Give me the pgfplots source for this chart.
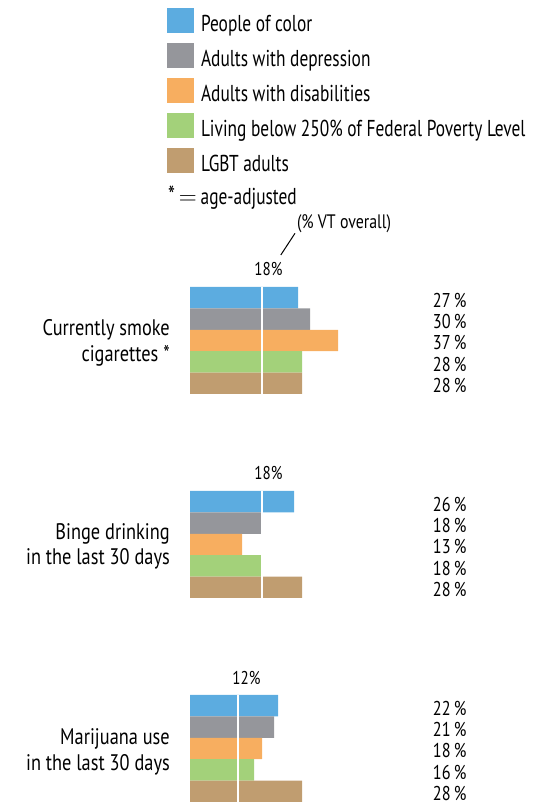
\documentclass[border=0pt]{standalone}
\usepackage{fontspec}
\setmainfont{PT Sans}[FakeStretch=0.815]
\newfontfamily\legfont{PT Sans}[FakeStretch=0.755]
\usepackage{pgfplots}
\pgfplotsset{compat=1.18}
\definecolor{cBlue}{RGB}{92,172,224}
\definecolor{cGray}{RGB}{149,150,155}
\definecolor{cOrange}{RGB}{247,174,96}
\definecolor{cGreen}{RGB}{163,209,122}
\definecolor{cTan}{RGB}{192,157,112}
\newcommand{\fs}[1]{\fontsize{#1}{#1}\selectfont}
\begin{document}
\begin{tikzpicture}
\begin{axis}[
  scale only axis, width=542pt, height=805pt,
  xmin=-47.5, xmax=88, ymin=-805, ymax=0,
  hide axis, clip=false,
  legend style={at={(0.30812,0.98969)}, anchor=north west, draw=none, fill=none,
    inner sep=0pt, outer sep=0pt, row sep=6.6pt, column sep=7pt,
    font=\legfont\fs{23},
    nodes={inner sep=0pt, text height=17pt, text depth=5pt}},
  legend cell align=left,
  every axis plot/.append style={xbar, bar shift=0pt, bar width=21.4pt, draw=none,
    legend image code/.code={\fill[##1,draw=none] (0pt,-7.6pt) rectangle (27pt,17.4pt);}},
]
\path (rel axis cs:0,0) rectangle (rel axis cs:1,1);
\addplot[fill=cBlue] coordinates {(27,-297.7) (26,-501.7) (22,-705.7)};
\addlegendentry{People of color}
\addplot[fill=cGray] coordinates {(30,-319.1) (18,-523.1) (21,-727.1)};
\addlegendentry{Adults with depression}
\addplot[fill=cOrange] coordinates {(37,-340.5) (13,-544.5) (18,-748.5)};
\addlegendentry{Adults with disabilities}
\addplot[fill=cGreen] coordinates {(28,-361.9) (18,-565.9) (16,-769.9)};
\addlegendentry{Living below 250\% of Federal Poverty Level}
\addplot[fill=cTan] coordinates {(28,-383.3) (28,-587.3) (28,-791.3)};
\addlegendentry{LGBT adults}
% reference lines (% VT overall)
\addplot[sharp plot, draw=white, line width=2pt, forget plot] coordinates {(18,-287) (18,-394)};
\addplot[sharp plot, draw=white, line width=2pt, forget plot] coordinates {(18,-491) (18,-598)};
\addplot[sharp plot, draw=white, line width=2pt, forget plot] coordinates {(12,-695) (12,-802)};
% texts
\node[anchor=base west, font=\legfont\fs{23}, inner sep=0pt] at (axis cs:-5.5,-205) {{\fs{26}*}\,$=$\,age-adjusted};
\node[anchor=base west, font=\fs{19.5}, inner sep=0pt] at (axis cs:26.7,-229) {(\% VT overall)};
\draw[black, line width=1pt] (axis cs:22.7,-255) -- (axis cs:26.25,-233.3);
\node[anchor=base, font=\fs{18.5}, inner sep=0pt] at (axis cs:19.6,-276) {18\%};
\node[anchor=base, font=\fs{18.5}, inner sep=0pt] at (axis cs:19.6,-480) {18\%};
\node[anchor=base, font=\fs{18.5}, inner sep=0pt] at (axis cs:14.1,-685) {12\%};
% category labels
\begin{scope}[every node/.style={anchor=base east, font=\fs{22.5}, inner sep=0pt}]
\node at (axis cs:-5,-336) {Currently smoke};
\node at (axis cs:-5,-362) {cigarettes *};
\node at (axis cs:-5,-540) {Binge drinking};
\node at (axis cs:-5,-565) {in the last 30 days};
\node at (axis cs:-5,-745) {Marijuana use};
\node at (axis cs:-5,-770.5) {in the last 30 days};
\end{scope}
% value labels
\begin{scope}[every node/.style={anchor=base east, font=\fs{20}, inner sep=0pt}]
\node at (axis cs:69.2,-307.2) {27\,\%};
\node at (axis cs:69.2,-328.6) {30\,\%};
\node at (axis cs:69.2,-350.0) {37\,\%};
\node at (axis cs:69.2,-371.4) {28\,\%};
\node at (axis cs:69.2,-392.8) {28\,\%};
\node at (axis cs:69.2,-511.2) {26\,\%};
\node at (axis cs:69.2,-532.6) {18\,\%};
\node at (axis cs:69.2,-554.0) {13\,\%};
\node at (axis cs:69.2,-575.4) {18\,\%};
\node at (axis cs:69.2,-596.8) {28\,\%};
\node at (axis cs:69.2,-715.2) {22\,\%};
\node at (axis cs:69.2,-736.6) {21\,\%};
\node at (axis cs:69.2,-758.0) {18\,\%};
\node at (axis cs:69.2,-779.4) {16\,\%};
\node at (axis cs:69.2,-800.8) {28\,\%};
\end{scope}
\end{axis}
\end{tikzpicture}
\end{document}
